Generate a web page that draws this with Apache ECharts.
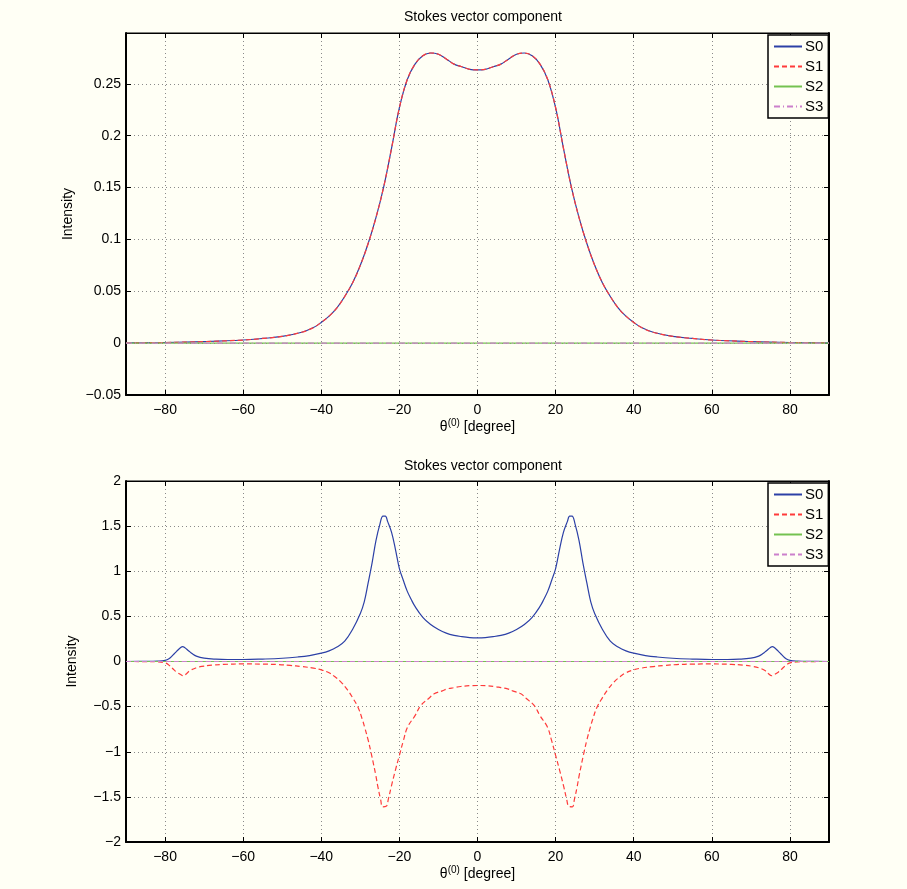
<!DOCTYPE html>
<html>
<head>
<meta charset="utf-8">
<script src="https://cdn.jsdelivr.net/npm/echarts@6/dist/echarts.min.js"></script>
<style>
html,body{margin:0;padding:0;background:#fffff5;}
#chart{width:907px;height:889px;}
</style>
</head>
<body>
<div id="chart"></div>
<script>
// ---------- DATA ----------
const xTicks = [-80, -60, -40, -20, 0, 20, 40, 60, 80];
const yTicksTop = [-0.05, 0, 0.05, 0.1, 0.15, 0.2, 0.25];
const yTicksBottom = [-2, -1.5, -1, -0.5, 0, 0.5, 1, 1.5, 2];
const legendNames = ['S0', 'S1', 'S2', 'S3'];
const plotTitle = 'Stokes vector component';

// Top panel
const angTop = [-90,-80,-70,-60,-55,-50,-45,-42,-40,-38,-36,-34,-32,-30,-28,-26,-24,-22,-20,-18,-16,-14,-12,-10,-8,-6,-4,-2,0,
  2,4,6,8,10,12,14,16,18,20,22,24,26,28,30,32,34,36,38,40,42,45,50,55,60,70,80,90];
const s0Top = [0.0002,0.0006,0.0015,0.003,0.0045,0.0065,0.0105,0.015,0.02,0.026,0.034,0.045,0.058,0.075,0.096,0.121,0.151,0.188,0.227,0.254,0.269,0.277,0.2797,0.2785,0.274,0.269,0.2665,0.264,0.2635,
  0.264,0.2665,0.269,0.274,0.2785,0.2797,0.277,0.269,0.254,0.227,0.188,0.151,0.121,0.096,0.075,0.058,0.045,0.034,0.026,0.02,0.015,0.0105,0.0065,0.0045,0.003,0.0015,0.0006,0.0002];
const s1Top = [0.0002,0.0006,0.0015,0.003,0.0045,0.0065,0.0105,0.015,0.02,0.026,0.034,0.045,0.058,0.075,0.096,0.121,0.151,0.188,0.227,0.254,0.269,0.277,0.2797,0.2785,0.274,0.269,0.2665,0.264,0.2635,
  0.264,0.2665,0.269,0.274,0.2785,0.2797,0.277,0.269,0.254,0.227,0.188,0.151,0.121,0.096,0.075,0.058,0.045,0.034,0.026,0.02,0.015,0.0105,0.0065,0.0045,0.003,0.0015,0.0006,0.0002];
const angZero = [-90, 90];
const s2Top = [0, 0];
const s3Top = [0, 0];

// Bottom panel
const angB0 = [-90,-85,-82,-80,-79,-78,-77,-76,-75.5,-75,-74,-73,-72,-70,-67,-64,-60,-55,-50,-46,-43,-40,-38,-36,-34,-32,-30,-29,-28,-27,-26,-25,-24.2,-23.6,-23,-22,-21,-20,-19,-18,-17,-16,-14,-12,-10,-8,-6,-4,-2,0,
  2,4,6,8,10,12,14,16,17,18,19,20,21,22,23,23.6,24.2,25,26,27,28,29,30,32,34,36,38,40,43,46,50,55,60,64,67,70,72,73,74,75,75.5,76,77,78,79,80,82,85,90];
const s0Bottom = [0,0.001,0.004,0.012,0.03,0.07,0.115,0.155,0.165,0.155,0.12,0.085,0.06,0.038,0.026,0.022,0.022,0.027,0.036,0.05,0.066,0.092,0.118,0.16,0.225,0.355,0.532,0.66,0.87,1.09,1.34,1.52,1.61,1.61,1.55,1.43,1.24,1.03,0.90,0.78,0.69,0.61,0.49,0.41,0.355,0.315,0.29,0.275,0.265,0.262,
  0.265,0.275,0.29,0.315,0.355,0.41,0.49,0.61,0.69,0.78,0.90,1.03,1.24,1.43,1.55,1.61,1.61,1.52,1.34,1.09,0.87,0.66,0.532,0.355,0.225,0.16,0.118,0.092,0.066,0.05,0.036,0.027,0.022,0.022,0.026,0.038,0.06,0.085,0.12,0.155,0.165,0.155,0.115,0.07,0.03,0.012,0.004,0.001,0];
const angB1 = [-90,-85,-82,-80,-79,-78,-77,-76,-75.3,-74.5,-73.6,-72,-70.6,-68,-65,-60,-55,-51,-48,-45,-42,-40,-38,-36.6,-35,-33.2,-32,-30.6,-29.5,-28.9,-28,-27.2,-26,-25.5,-24.8,-24.3,-23.4,-22.8,-22.1,-21,-20,-19,-17.9,-16,-14.5,-12.5,-11.1,-9,-7.7,-6,-4.3,-2,0,
  2,4.3,6,7.7,9,11.1,12.5,14.5,16,17.9,19,20,21,22.1,22.8,23.4,24.3,24.8,25.5,26,27.2,28,28.9,29.5,30.6,32,33.2,35,36.6,38,40,42,45,48,51,55,60,65,68,70.6,72,73.6,74.5,75.3,76,77,78,79,80,82,85,90];
const s1Bottom = [0,-0.001,-0.004,-0.015,-0.04,-0.08,-0.118,-0.145,-0.158,-0.135,-0.1,-0.07,-0.055,-0.04,-0.032,-0.027,-0.029,-0.034,-0.043,-0.056,-0.073,-0.092,-0.125,-0.166,-0.225,-0.32,-0.40,-0.506,-0.64,-0.727,-0.87,-1.02,-1.27,-1.39,-1.53,-1.61,-1.605,-1.52,-1.39,-1.20,-1.04,-0.88,-0.727,-0.60,-0.487,-0.41,-0.358,-0.325,-0.303,-0.29,-0.277,-0.268,-0.266,
  -0.268,-0.277,-0.29,-0.303,-0.325,-0.358,-0.41,-0.487,-0.60,-0.727,-0.88,-1.04,-1.20,-1.39,-1.52,-1.605,-1.61,-1.53,-1.39,-1.27,-1.02,-0.87,-0.727,-0.64,-0.506,-0.40,-0.32,-0.225,-0.166,-0.125,-0.092,-0.073,-0.056,-0.043,-0.034,-0.029,-0.027,-0.032,-0.04,-0.055,-0.07,-0.1,-0.135,-0.158,-0.145,-0.118,-0.08,-0.04,-0.015,-0.004,-0.001,0];
const s2Bottom = [0, 0];
const s3Bottom = [0, 0];

// ---------- STYLE / BUILD ----------
const FONT = '"Liberation Sans", Arial, Helvetica, sans-serif';
const BG = '#fffff5';
const C0 = '#2c40a6', C1 = '#ff3b3b', C2 = '#74c250', C3 = '#cc80cc';
const pair = (xs, ys) => xs.map((x, i) => [x, ys[i]]);
const fmtNum = v => { const s = String(+(+v).toFixed(3)); return s.replace('-', '\u2212'); };

const grids = [
  {left: 126, top: 33, width: 703, height: 362},
  {left: 126, top: 481, width: 703, height: 361}
];

function xAx(gi, pos, withLabels) {
  return {
    type: 'value', gridIndex: gi, position: pos, min: -90, max: 90,
    axisLine: {show: true, onZero: false, lineStyle: {color: '#000', width: pos === 'bottom' ? 2 : 1}},
    axisTick: {show: true, inside: true, length: 5, customValues: xTicks, lineStyle: {color: '#000'}},
    axisLabel: withLabels ? {show: true, customValues: xTicks, formatter: fmtNum, color: '#000', fontSize: 14, fontFamily: FONT, margin: 8} : {show: false},
    splitLine: withLabels ? {show: true, lineStyle: {color: '#8a8a8a', type: [1, 3], width: 1}} : {show: false},
    name: withLabels ? '\u03b8{sup|(0)} [degree]' : '',
    nameLocation: 'middle', nameGap: 23,
    nameTextStyle: {color: '#000', fontSize: 14, fontFamily: FONT,
      rich: {sup: {fontSize: 10, verticalAlign: 'top', padding: [0, 0, 8, 0], fontFamily: FONT, color: '#000'}}}
  };
}
function yAx(gi, pos, withLabels, mn, mx, ticks) {
  return {
    type: 'value', gridIndex: gi, position: pos, min: mn, max: mx,
    axisLine: {show: true, onZero: false, lineStyle: {color: '#000', width: 2}},
    axisTick: {show: true, inside: true, length: 5, customValues: ticks, lineStyle: {color: '#000'}},
    axisLabel: withLabels ? {show: true, customValues: ticks, formatter: fmtNum, color: '#000', fontSize: 14, fontFamily: FONT, margin: 5} : {show: false},
    splitLine: withLabels ? {show: true, lineStyle: {color: '#8a8a8a', type: [1, 3], width: 1}} : {show: false},
    name: withLabels ? 'Intensity' : '',
    nameLocation: 'middle', nameGap: 47, nameRotate: 90,
    nameTextStyle: {color: '#000', fontSize: 14, fontFamily: FONT}
  };
}

function line(name, xi, yi, data, color, type) {
  return {
    name: name, type: 'line', xAxisIndex: xi, yAxisIndex: yi, data: data,
    showSymbol: false, symbol: 'none', smooth: 0.4, animation: false,
    lineStyle: {color: color, width: 1.2, type: type}, itemStyle: {color: color},
    emphasis: {disabled: true}
  };
}

function legendAt(top, names) {
  return {
    data: names, orient: 'vertical', left: 768, top: top,
    backgroundColor: BG, borderColor: '#000', borderWidth: 1.5,
    padding: [4, 5, 4, 5], itemGap: 5, itemWidth: 28, itemHeight: 13,
    itemStyle: {opacity: 0, borderWidth: 0},
    formatter: n => n.trim(),
    textStyle: {color: '#000', fontSize: 15, fontFamily: FONT, padding: [0, 0, 0, -2]},
    selectedMode: false
  };
}

const option = {
  backgroundColor: BG,
  animation: false,
  title: [
    {text: plotTitle, left: 478, top: 5, textAlign: 'center', textStyle: {fontSize: 14, fontWeight: 'normal', color: '#000', fontFamily: FONT}},
    {text: plotTitle, left: 478, top: 454, textAlign: 'center', textStyle: {fontSize: 14, fontWeight: 'normal', color: '#000', fontFamily: FONT}}
  ],
  grid: grids.map(g => Object.assign({show: true, backgroundColor: BG, borderColor: '#000', borderWidth: 1, containLabel: false}, g)),
  xAxis: [xAx(0, 'bottom', true), xAx(0, 'top', false), xAx(1, 'bottom', true), xAx(1, 'top', false)],
  yAxis: [
    yAx(0, 'left', true, -0.05, 0.299, yTicksTop), yAx(0, 'right', false, -0.05, 0.299, yTicksTop),
    yAx(1, 'left', true, -2, 2, yTicksBottom), yAx(1, 'right', false, -2, 2, yTicksBottom)
  ],
  legend: [
    legendAt(35, legendNames),
    legendAt(483, legendNames.map(n => n + ' '))
  ],
  series: [
    line('S0', 0, 0, pair(angTop, s0Top), C0, 'solid'),
    line('S1', 0, 0, pair(angTop, s1Top), C1, [5, 3]),
    line('S2', 0, 0, pair(angZero, s2Top), C2, 'solid'),
    line('S3', 0, 0, pair(angZero, s3Top), C3, [6, 3, 1, 3]),
    line('S0 ', 2, 2, pair(angB0, s0Bottom), C0, 'solid'),
    line('S1 ', 2, 2, pair(angB1, s1Bottom), C1, [5, 3]),
    line('S2 ', 2, 2, pair(angZero, s2Bottom), C2, 'solid'),
    line('S3 ', 2, 2, pair(angZero, s3Bottom), C3, [5, 3])
  ]
};

const chart = echarts.init(document.getElementById('chart'), null, {renderer: 'canvas'});
chart.setOption(option);
</script>
</body>
</html>
